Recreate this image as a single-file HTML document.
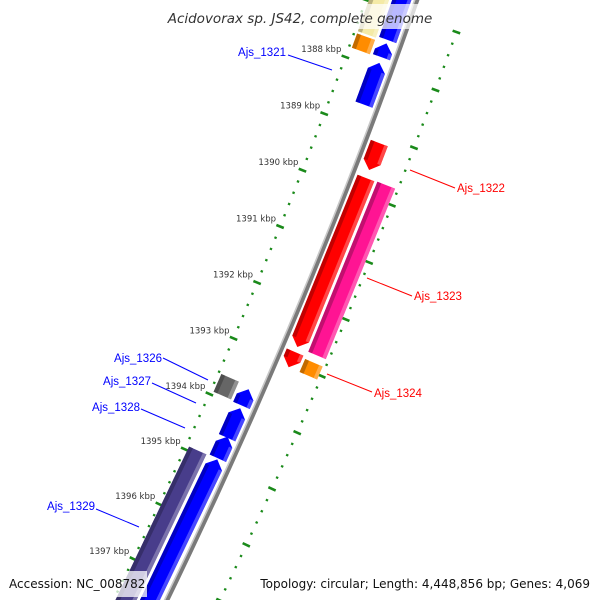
<!DOCTYPE html>
<html><head><meta charset="utf-8"><style>
html,body{margin:0;padding:0;background:#fff;width:600px;height:600px;overflow:hidden;}
svg{display:block;font-family:"DejaVu Sans","Liberation Sans",sans-serif;}
</style></head><body>
<svg id="map" width="600" height="600" viewBox="0 0 600 600" xmlns="http://www.w3.org/2000/svg">
<rect width="600" height="600" fill="#fff"/>
<g id="ticks"></g>
<g id="backbone"></g>
<g id="features"></g>
<g id="tlabels"></g>
<g id="flabels"></g>
<rect x="160" y="4" width="282" height="25" fill="#fff" opacity="0.72"/>
<text x="300" y="23" text-anchor="middle" font-size="13.5" font-style="italic" fill="#333">Acidovorax sp. JS42, complete genome</text>
<rect x="3" y="571" width="144" height="26" fill="#fff" opacity="0.75"/>
<text x="9" y="588" font-size="12" fill="#111">Accession: NC_008782</text>
<rect x="256" y="571" width="340" height="26" fill="#fff" opacity="0.75"/>
<text x="590" y="588" text-anchor="end" font-size="12" fill="#111">Topology: circular; Length: 4,448,856 bp; Genes: 4,069</text>
</svg>
<script>
// data
const featStart = [1386.0, 1386.0, 1387.57, 1387.56, 1387.9, 1389.13, 1389.74, 1389.73, 1392.81, 1392.85, 1393.62, 1393.67, 1394.01, 1394.52, 1394.93, 1394.93];
const featEnd   = [1387.53, 1387.5, 1387.82, 1387.8, 1388.63, 1389.6, 1392.72, 1392.72, 1393.08, 1393.08, 1393.94, 1393.96, 1394.54, 1394.91, 1399.0, 1399.0];
const featStrand= [0, -1, 0, -1, -1, 1, 1, 0, 1, 0, 0, -1, -1, -1, 0, -1];
const featLane  = [-2, -1, -2, -1, -1, 1, 1, 2, 1, 2, -2, -1, -1, -1, -2, -1];
const featColor = ["#f4eaa6","#0000ff","#ff8c00","#0000ff","#0000ff","#ff0000","#ff0000","#ff1493","#ff0000","#ff8c00","#666666","#0000ff","#0000ff","#0000ff","#483d8b","#0000ff"];
const featName  = ["yellow-feature","blue-feature-top","orange-feature-top","blue-arrow-small","ajs-1321","ajs-1322","red-long-feature","ajs-1323","red-small-feature","ajs-1324","ajs-1326","ajs-1327","ajs-1328","blue-arrow-3","ajs-1329","blue-long-feature"];
const tickMajor = [1387,1388,1389,1390,1391,1392,1393,1394,1395,1396,1397,1398];
const tickLabels = ["1387 kbp","1388 kbp","1389 kbp","1390 kbp","1391 kbp","1392 kbp","1393 kbp","1394 kbp","1395 kbp","1396 kbp","1397 kbp","1398 kbp"];
const labelText = ["Ajs_1321","Ajs_1322","Ajs_1323","Ajs_1324","Ajs_1326","Ajs_1327","Ajs_1328","Ajs_1329"];
const labelColor = ["#0000ff","#ff0000","#ff0000","#ff0000","#0000ff","#0000ff","#0000ff","#0000ff"];

const NS="http://www.w3.org/2000/svg";
const CX=-4977, CY=-1895, R0=5717;
function ang(k){return (20.14+(k-1388)*0.6122)*Math.PI/180;}
function pt(k,o){const a=ang(k),r=R0+o;return [CX+r*Math.cos(a),CY+r*Math.sin(a)];}
function mk(tag,attrs,parent){const e=document.createElementNS(NS,tag);for(const a in attrs)e.setAttribute(a,attrs[a]);parent.appendChild(e);return e;}
function ps(arr){return arr.map(p=>p[0].toFixed(1)+","+p[1].toFixed(1)).join(" ");}
function shade(hex,f){const n=parseInt(hex.slice(1),16);let r=n>>16,g=(n>>8)&255,b=n&255;
 if(f<0){r*=1+f;g*=1+f;b*=1+f;}else{r+=(255-r)*f;g+=(255-g)*f;b+=(255-b)*f;}
 return "rgb("+[r,g,b].map(v=>Math.round(v)).join(",")+")";}

// ticks
const tg=document.getElementById('ticks');
for(const side of [-48,48]){
 for(let i=0;i<tickMajor.length;i++){
  for(let j=0;j<5;j++){
   const k=tickMajor[i]+j*0.2;
   const len=j===0?4:1.2;
   const a=pt(k,side-len),b=pt(k,side+len);
   const l=mk('line',{x1:a[0],y1:a[1],x2:b[0],y2:b[1],stroke:'#1a8a1a','stroke-width':j===0?2.6:2.2},tg);
   
   
  }
 }
}
// tick labels
const tl=document.getElementById('tlabels');
for(let i=0;i<tickMajor.length;i++){
 const p=pt(tickMajor[i],-48);
 const t=mk('text',{x:p[0]-4,y:p[1]-5,'text-anchor':'end','font-size':'8.5',fill:'#333'},tl);
 t.textContent=tickLabels[i];
 
 
}
// backbone
const bb=document.getElementById('backbone');
function arcPath(o){const pts=[];for(let k=1385;k<=1400;k+=0.5)pts.push(pt(k,o));return "M"+ps(pts).replace(/ /g," L");}
const b1=mk('path',{d:arcPath(0.5),stroke:'#7a7a7a','stroke-width':4,fill:'none'},bb);


const b2=mk('path',{d:arcPath(-2),stroke:'#c8c8c8','stroke-width':1.6,fill:'none'},bb);



// features
const fg=document.getElementById('features');
function lane(l){const s=Math.sign(l),a=Math.abs(l);const o1=a===1?5:26,o2=a===1?23:45;return s>0?[o1,o2]:[-o2,-o1];}
for(let i=0;i<featStart.length;i++){
 const [oi,oo]=lane(featLane[i]);const oc=(oi+oo)/2;
 let k1=featStart[i],k2=featEnd[i];const head=0.14;
 let poly;
 if(featStrand[i]===1){
  const kh=Math.max(k1,k2-head);
  poly=[pt(k1,oi),pt(kh,oi),pt(k2,oc),pt(kh,oo),pt(k1,oo)];
 }else if(featStrand[i]===-1){
  const kh=Math.min(k2,k1+head);
  poly=[pt(k2,oi),pt(kh,oi),pt(k1,oc),pt(kh,oo),pt(k2,oo)];
 }else poly=[pt(k1,oi),pt(k2,oi),pt(k2,oo),pt(k1,oo)];
 const g=mk('g',{},fg);
 
 
 mk('polygon',{points:ps(poly),fill:featColor[i]},g);
 const w=oo-oi;
 const ka=featStrand[i]===1?Math.max(k1,k2-head):k2, kb=featStrand[i]===-1?Math.min(k2,k1+head):k1;
 const dk2=[pt(kb,oi),pt(ka,oi),pt(ka,oi+w*0.22),pt(kb,oi+w*0.22)];
 const lt2=[pt(kb,oo-w*0.2),pt(ka,oo-w*0.2),pt(ka,oo),pt(kb,oo)];
 mk('polygon',{points:ps(dk2),fill:shade(featColor[i],-0.3),opacity:0.8},g);
 mk('polygon',{points:ps(lt2),fill:shade(featColor[i],0.35),opacity:0.8},g);
}

// feature labels
const fl=document.getElementById('flabels');
const lblX=[286,457,414,374,162,151,140,95];
const lblY=[56,192,300,397,362,385,411,510];
const lnA=[[288,55],[410,170],[367,278],[327,374],[163,358],[152,383],[141,409],[96,509]];
const lnB=[[332,70],[455,188],[412,296],[372,392],[208,380],[196,403],[185,428],[139,527]];
for(let i=0;i<labelText.length;i++){
 const right=labelColor[i]==="#ff0000";
 const l=mk('line',{x1:lnA[i][0],y1:lnA[i][1],x2:lnB[i][0],y2:lnB[i][1],stroke:labelColor[i],'stroke-width':1},fl);
 
 
 const t=mk('text',{x:lblX[i],y:lblY[i],'text-anchor':right?'start':'end','font-size':'11.5','font-family':'"Liberation Sans",sans-serif',fill:labelColor[i]},fl);
 t.textContent=labelText[i];
 
 
}
</script>
</body></html>
